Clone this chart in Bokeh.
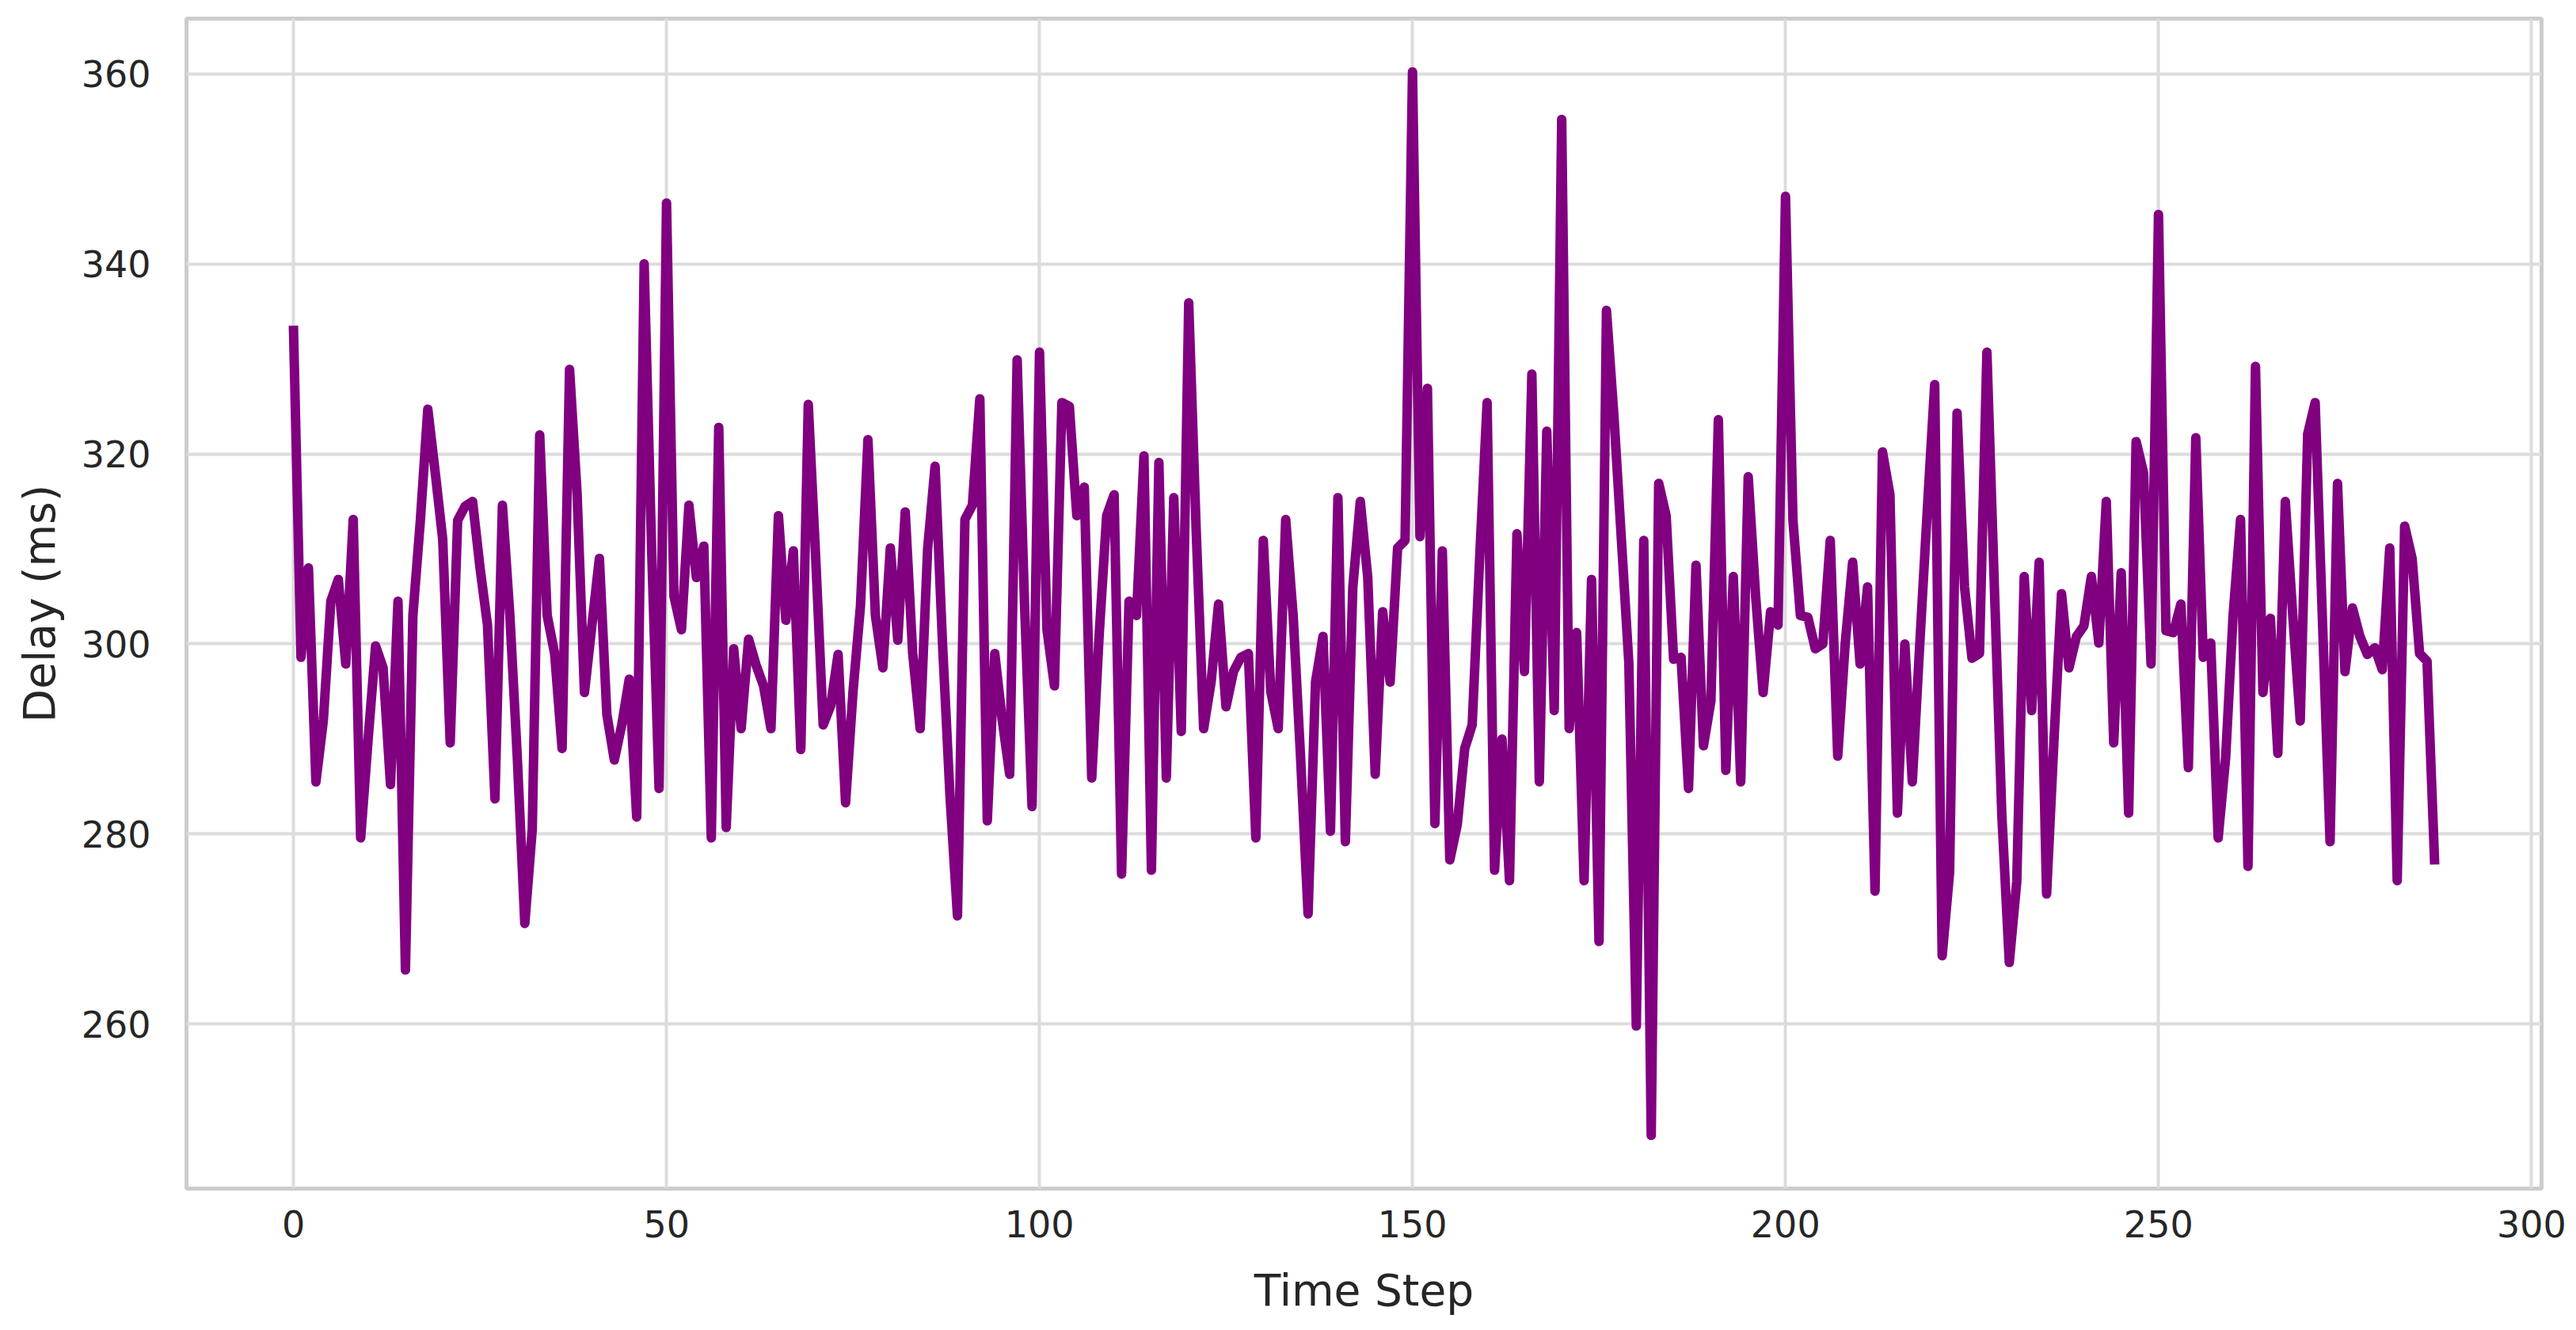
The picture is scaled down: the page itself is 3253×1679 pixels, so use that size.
from bokeh.plotting import figure
from bokeh.models import Range1d, FixedTicker
from bokeh.embed import file_html
from bokeh.resources import INLINE

# ---- data ----
delay_ms = [
    333.0, 298.6, 308.0, 285.5, 292.0, 304.5, 306.8, 297.9, 313.1, 279.6,
    290.0, 299.8, 297.5, 285.2, 304.5, 265.7, 303.0, 313.0, 324.7, 318.0,
    311.0, 289.6, 313.0, 314.5, 315.0, 308.0, 302.0, 283.7, 314.6, 303.0,
    288.0, 270.6, 280.5, 322.0, 303.0, 299.0, 289.0, 328.9, 316.0, 294.9,
    302.0, 309.0, 292.6, 287.8, 291.5, 296.3, 281.8, 340.0, 310.0, 284.8,
    346.4, 305.0, 301.5, 314.6, 307.0, 310.3, 279.6, 322.8, 280.7, 299.5,
    291.1, 300.5, 297.8, 295.6, 291.1, 313.5, 302.5, 309.8, 288.9, 325.2,
    309.0, 291.5, 293.5, 298.9, 283.3, 295.0, 304.0, 321.5, 303.0, 297.5,
    310.1, 300.4, 313.9, 299.0, 291.1, 310.0, 318.7, 300.0, 284.0, 271.4,
    313.1, 314.6, 325.8, 281.4, 299.0, 292.0, 286.3, 329.9, 304.0, 282.9,
    330.7, 301.5, 295.6, 325.4, 325.0, 313.5, 316.5, 285.9, 301.0, 313.5,
    315.7, 275.8, 304.5, 303.0, 319.8, 276.2, 319.1, 285.9, 315.4, 290.8,
    335.9, 312.0, 291.1, 296.0, 304.2, 293.4, 297.1, 298.6, 299.0, 279.6,
    310.9, 295.0, 291.1, 313.1, 303.0, 288.0, 271.6, 296.0, 300.8, 280.3,
    315.4, 279.2, 306.0, 315.0, 307.0, 286.3, 303.4, 296.0, 310.1, 310.9,
    360.2, 311.3, 326.9, 281.1, 309.8, 277.3, 281.0, 289.0, 291.5, 309.0,
    325.4, 276.2, 290.0, 275.1, 311.6, 297.1, 328.4, 285.5, 322.4, 293.0,
    355.2, 291.1, 301.2, 275.1, 306.8, 268.7, 335.1, 324.0, 311.0, 298.0,
    259.8, 310.9, 248.3, 316.9, 313.5, 298.4, 298.6, 284.8, 308.3, 289.3,
    294.0, 323.6, 286.7, 307.1, 285.5, 317.6, 305.0, 294.9, 303.4, 302.0,
    347.1, 313.0, 303.0, 302.8, 299.5, 300.0, 310.9, 288.2, 300.0, 308.6,
    297.9, 306.0, 274.0, 320.2, 315.7, 282.2, 300.0, 285.5, 300.0, 314.0,
    327.3, 267.2, 276.0, 324.3, 306.0, 298.5, 299.0, 330.7, 306.0, 282.0,
    266.5, 275.0, 307.1, 293.0, 308.6, 273.7, 290.0, 305.3, 297.5, 300.8,
    301.9, 307.1, 300.1, 315.0, 289.6, 307.5, 282.2, 321.3, 318.0, 297.9,
    345.2, 301.4, 301.2, 304.2, 287.0, 321.7, 298.6, 300.1, 279.6, 288.0,
    303.0, 313.1, 276.6, 329.2, 294.9, 302.7, 288.5, 315.0, 303.0, 291.9,
    322.1, 325.4, 302.0, 279.2, 316.9, 297.1, 303.8, 300.8, 298.9, 299.6,
    297.3, 310.1, 275.1, 312.4, 309.0, 299.0, 298.2, 277.3,
]
time_step = list(range(len(delay_ms)))

x_ticks = [0, 50, 100, 150, 200, 250, 300]
y_ticks = [260, 280, 300, 320, 340, 360]
x_label = "Time Step"
y_label = "Delay (ms)"

# ---- ranges with 5% padding (matplotlib-like margins) ----
xs = max(time_step) - min(time_step)
ymin, ymax = min(delay_ms), max(delay_ms)
ys = ymax - ymin

p = figure(
    width=3245, height=1671,
    output_backend="svg", toolbar_location=None,
    x_range=Range1d(min(time_step) - 0.05 * xs, max(time_step) + 0.05 * xs),
    y_range=Range1d(ymin - 0.05 * ys, ymax + 0.05 * ys),
    min_border_left=235, min_border_right=36,
    min_border_top=23, min_border_bottom=171,
    background_fill_color="white", border_fill_color="white",
)

p.line(time_step, delay_ms, line_color="#800080", line_width=12,
       line_join="round", line_cap="square")

p.outline_line_color = "#cccccc"
p.outline_line_width = 5

for g in (p.xgrid, p.ygrid):
    g.grid_line_color = "#dcdcdc"
    g.grid_line_width = 4

p.xaxis.ticker = FixedTicker(ticks=x_ticks)
p.yaxis.ticker = FixedTicker(ticks=y_ticks)
p.xgrid.ticker = FixedTicker(ticks=x_ticks)
p.ygrid.ticker = FixedTicker(ticks=y_ticks)

for ax in (p.xaxis, p.yaxis):
    ax.axis_line_color = None
    ax.major_tick_line_color = None
    ax.minor_tick_line_color = None
    ax.major_tick_in = 0
    ax.major_tick_out = 0
    ax.minor_tick_in = 0
    ax.minor_tick_out = 0
    ax.major_label_text_font = "DejaVu Sans"
    ax.major_label_text_font_size = "46px"
    ax.major_label_text_color = "#262626"
    ax.axis_label_text_font = "DejaVu Sans"
    ax.axis_label_text_font_size = "55px"
    ax.axis_label_text_font_style = "normal"
    ax.axis_label_text_color = "#262626"

p.xaxis.axis_label = x_label
p.yaxis.axis_label = y_label
p.xaxis.major_label_standoff = 27
p.yaxis.major_label_standoff = 45
p.xaxis.axis_label_standoff = 32
p.yaxis.axis_label_standoff = 18

open("out.html", "w").write(file_html(p, INLINE))
